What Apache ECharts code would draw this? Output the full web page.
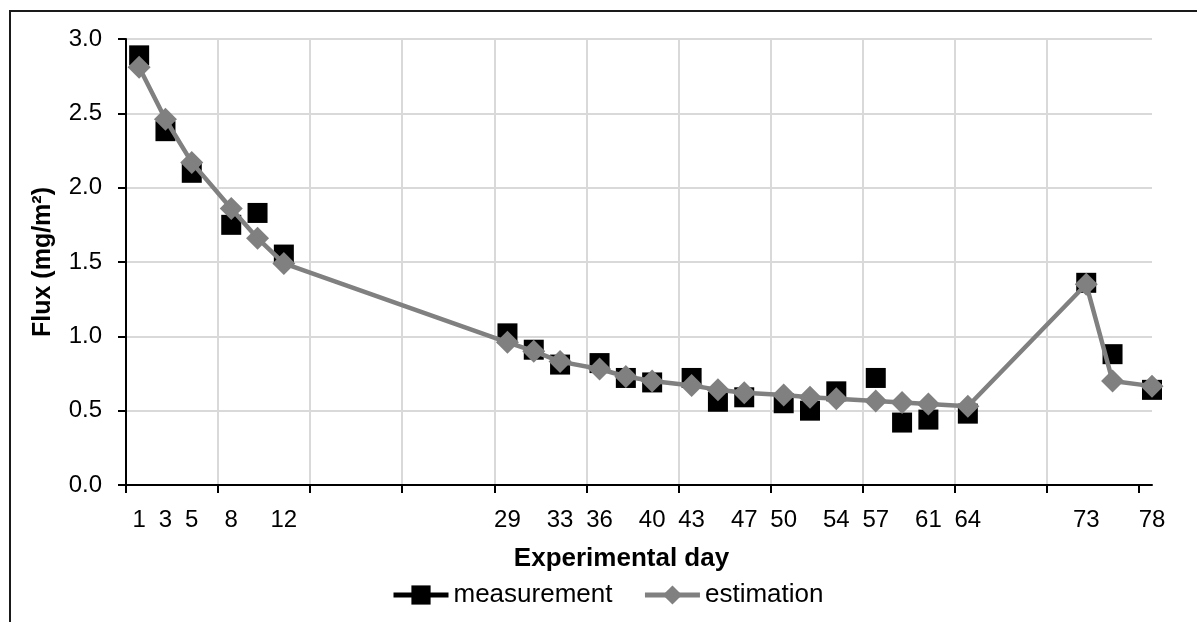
<!DOCTYPE html>
<html><head><meta charset="utf-8">
<script src="https://cdn.jsdelivr.net/npm/echarts@6/dist/echarts.min.js"></script>
<style>html,body{margin:0;padding:0;background:#fff}#c{width:1197px;height:622px}</style>
</head><body><div id="c"></div>
<script>
const days = [1,3,5,8,10,12,29,31,33,36,38,40,43,45,47,50,52,54,57,59,61,64,73,75,78];
const measurement = [2.89,2.38,2.10,1.75,1.83,1.55,1.02,0.91,0.81,0.82,0.72,0.69,0.72,0.56,0.59,0.55,0.50,0.63,0.72,0.42,0.44,0.48,1.36,0.88,0.64];
const estimation = [2.81,2.46,2.17,1.86,1.66,1.49,0.96,0.90,0.83,0.78,0.73,0.70,0.67,0.64,0.62,0.605,0.59,0.58,0.565,0.555,0.545,0.53,1.35,0.70,0.665];
const xLabelDays = [1,3,5,8,12,29,33,36,40,43,47,50,54,57,61,64,73,78];
const xTickDays = [0,7,14,21,28,35,42,49,56,63,70,77];
const seriesNames = ['measurement','estimation'];
const xTitle = 'Experimental day';
const yTitle = 'Flux (mg/m²)';

const FONT = "'Liberation Sans', Arial, sans-serif";
const chart = echarts.init(document.getElementById('c'), null, {renderer:'canvas'});
chart.setOption({
  animation: false,
  backgroundColor: '#fff',
  graphic: [{
    type: 'rect', left: 7.5, top: 8.5, z: 100,
    shape: {x: 0, y: 0, width: 1400, height: 800},
    style: {fill: 'none', stroke: '#1a1a1a', lineWidth: 2}
  }],
  grid: {left: 126, right: 45, top: 39, bottom: 137, containLabel: false, outerBoundsMode: 'none'},
  legend: {
    left: 386, top: 577,
    itemWidth: 55, itemHeight: 24, itemGap: 30,
    textStyle: {fontFamily: FONT, fontSize: 26, color: '#000'},
    data: [
      {name: seriesNames[0], itemStyle: {color: '#000'}, lineStyle: {color: '#000', width: 5, opacity: 1}},
      {name: seriesNames[1], itemStyle: {color: '#808080'}, lineStyle: {color: '#808080', width: 5, opacity: 1}}
    ]
  },
  xAxis: {
    type: 'value', min: 0, max: 78,
    name: xTitle, nameLocation: 'middle', nameGap: 61,
    nameTextStyle: {fontFamily: FONT, fontSize: 26, fontWeight: 'bold', color: '#000', padding: [0, 35, 0, 0]},
    axisLine: {show: true, onZero: false, lineStyle: {color: '#000', width: 2}},
    axisTick: {show: true, inside: false, length: 8, customValues: xTickDays, lineStyle: {color: '#000', width: 2}},
    axisLabel: {customValues: xLabelDays, fontFamily: FONT, fontSize: 24, color: '#000', margin: 23},
    splitLine: {show: true, showMinLine: false, showMaxLine: false, lineStyle: {color: '#d9d9d9', width: 2}}
  },
  yAxis: {
    type: 'value', min: 0, max: 3, interval: 0.5,
    name: yTitle, nameLocation: 'middle', nameGap: 70, nameRotate: 90,
    nameTextStyle: {fontFamily: FONT, fontSize: 25, fontWeight: 'bold', color: '#000'},
    axisLine: {show: true, lineStyle: {color: '#000', width: 2}},
    axisTick: {show: true, inside: false, length: 8, lineStyle: {color: '#000', width: 2}},
    axisLabel: {fontFamily: FONT, fontSize: 24, color: '#000', margin: 24, formatter: v => v.toFixed(1)},
    splitLine: {show: true, showMinLine: false, lineStyle: {color: '#d9d9d9', width: 2}}
  },
  series: [
    {
      name: seriesNames[0], type: 'line',
      data: days.map((d, i) => [d, measurement[i]]),
      symbol: 'rect', symbolSize: 20,
      itemStyle: {color: '#000'},
      lineStyle: {color: '#000', width: 0, opacity: 0},
      z: 2
    },
    {
      name: seriesNames[1], type: 'line',
      data: days.map((d, i) => [d, estimation[i]]),
      symbol: 'diamond', symbolSize: 23,
      itemStyle: {color: '#808080'},
      lineStyle: {color: '#808080', width: 4.5},
      z: 3
    }
  ]
});
</script></body></html>
